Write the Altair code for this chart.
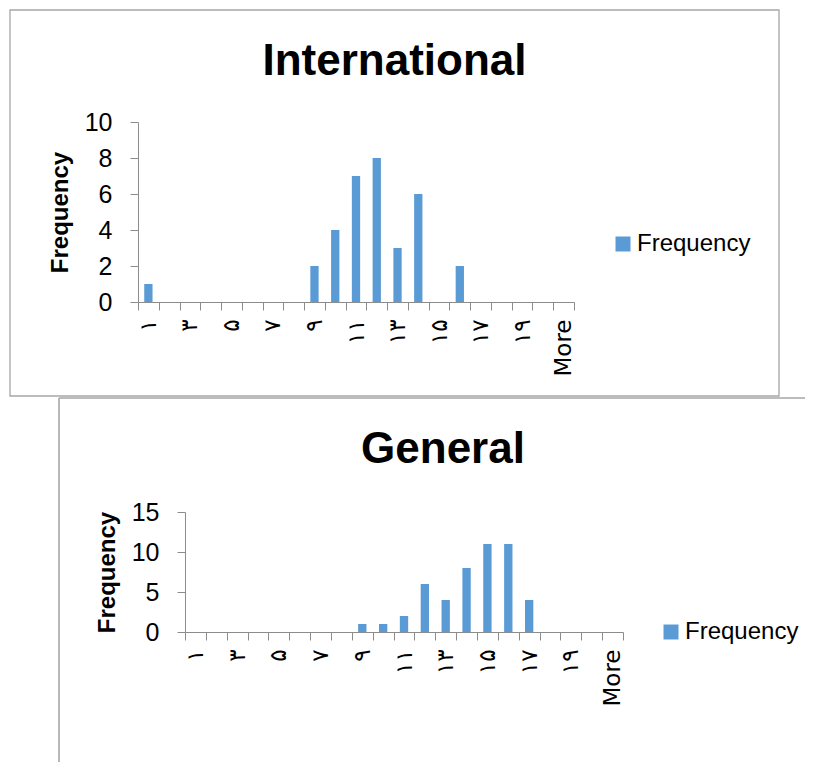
import json
import altair as alt
import pandas as pd

# ---- data ----
bin_labels = ['۱', '۲', '۳', '۴', '۵', '۶', '۷', '۸', '۹', '۱۰',
              '۱۱', '۱۲', '۱۳', '۱۴', '۱۵', '۱۶', '۱۷', '۱۸', '۱۹', '۲۰', 'More']
international_freq = [1, 0, 0, 0, 0, 0, 0, 0, 2, 4, 7, 8, 3, 6, 0, 2, 0, 0, 0, 0, 0]
general_freq = [0, 0, 0, 0, 0, 0, 0, 0, 1, 1, 2, 6, 4, 8, 11, 11, 4, 0, 0, 0, 0]
intl_ticks = [0, 2, 4, 6, 8, 10]
gen_ticks = [0, 5, 10, 15]
series_name = 'Frequency'

FONT = 'Liberation Sans'
XFONT = 'DejaVu Sans'
BAR = '#5B9BD5'
AXIS_GRAY = '#8c8c8c'
FRAME_GRAY = '#a6a6a6'

label_expr = ("indexof(" + json.dumps(bin_labels, ensure_ascii=False) +
              ", datum.value) % 2 == 0 ? datum.value : ''")


def histo(values, ticks, legend_x, legend_y, x_range=None, y_offset=0):
    df = pd.DataFrame({'bin': bin_labels, 'count': values,
                       'series': [series_name] * len(bin_labels)})
    xscale = alt.Scale(paddingInner=0, paddingOuter=0)
    if x_range is not None:
        xscale = alt.Scale(paddingInner=0, paddingOuter=0, range=x_range)
    return alt.Chart(df).mark_bar(width=alt.RelativeBandSize(0.4)).encode(
        x=alt.X('bin:N', sort=bin_labels, scale=xscale,
                axis=alt.Axis(title=None, labelAngle=270, labelFontSize=23,
                              labelExpr=label_expr, labelOverlap=False,
                              labelFlush=False, labelBound=False,
                              tickBand='extent', tickSize=8,
                              tickColor=AXIS_GRAY, domainColor=AXIS_GRAY,
                              labelPadding=9, grid=False, labelColor='black',
                              labelFont=XFONT)),
        y=alt.Y('count:Q', scale=alt.Scale(domain=[ticks[0], ticks[-1]], nice=False),
                axis=alt.Axis(values=ticks, title='Frequency', titleFontSize=24,
                              titleFontWeight='bold', titlePadding=12,
                              titleColor='black', titleFont=FONT,
                              labelFontSize=25, labelFont=FONT, labelColor='black',
                              tickSize=8, tickColor=AXIS_GRAY, domainColor=AXIS_GRAY,
                              labelPadding=18, grid=False, offset=y_offset)),
        color=alt.Color('series:N', scale=alt.Scale(range=[BAR]),
                        legend=alt.Legend(title=None, orient='none',
                                          legendX=legend_x, legendY=legend_y,
                                          symbolType='square', symbolSize=225,
                                          symbolStrokeWidth=0, labelFontSize=24,
                                          labelFont=FONT, labelColor='black',
                                          labelOffset=2, padding=0)),
    )


one = pd.DataFrame({'k': [0]})
no_view = alt.ViewBackground(stroke=None, strokeWidth=0)

# top chart: plot origin at page (137,123), 436 x 180
top_frame = alt.Chart(one).mark_rect(fill=None, stroke=FRAME_GRAY, strokeWidth=1.3).encode(
    x=alt.value(-128), x2=alt.value(641), y=alt.value(-112), y2=alt.value(274))
top = alt.layer(top_frame, histo(international_freq, intl_ticks, 473, 110)).properties(
    width=436, height=180, view=no_view,
    title=alt.Title('International', fontSize=44, font=FONT, fontWeight='bold',
                    anchor='middle', frame='bounds', offset=-75, color='black'))

# bottom chart: origin aligned with top (page x 137, y 513); bars drawn from x=47 (page 184)
bot_top_edge = alt.Chart(one).mark_rule(color=FRAME_GRAY, strokeWidth=1.6).encode(
    x=alt.value(-79), x2=alt.value(667), y=alt.value(-114))
bot_left_edge = alt.Chart(one).mark_rule(color=FRAME_GRAY, strokeWidth=1.6).encode(
    x=alt.value(-79), y=alt.value(-114), y2=alt.value(250))
bottom = alt.layer(bot_top_edge, bot_left_edge,
                   histo(general_freq, gen_ticks, 521, 108,
                         x_range=[47, 485], y_offset=-47)).properties(
    width=485, height=120, view=no_view,
    title=alt.Title('General', fontSize=44, font=FONT, fontWeight='bold',
                    anchor='middle', frame='bounds', offset=-75, dx=11, color='black'))

chart = alt.vconcat(top, bottom, spacing=0).resolve_scale(
    color='independent', x='independent', y='independent'
).resolve_legend(color='independent').properties(
    padding={'left': 1, 'top': 1, 'right': 0, 'bottom': 0}
).configure_view(stroke=None, strokeWidth=0).configure(font=FONT)

chart.save('out.html', embed_options={'renderer': 'svg', 'actions': False})
